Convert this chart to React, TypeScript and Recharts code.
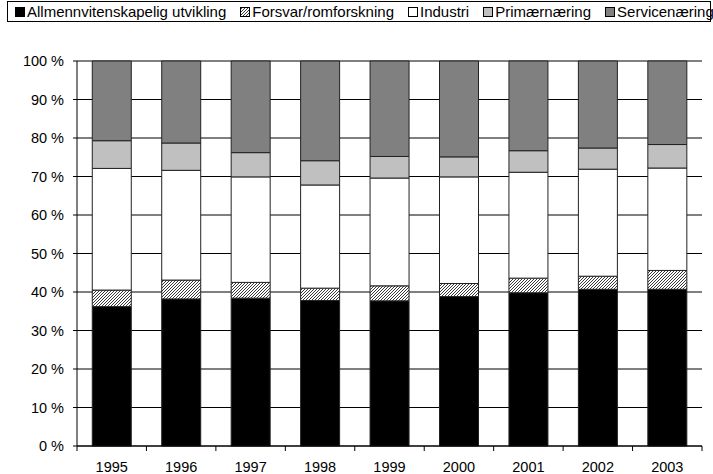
import React from "react";
import { BarChart, Bar, XAxis, YAxis, CartesianGrid } from "recharts";

const years = ["1995", "1996", "1997", "1998", "1999", "2000", "2001", "2002", "2003"];
const allmenn = [36.2, 38.2, 38.4, 37.8, 37.7, 38.8, 39.8, 40.7, 40.7];
const forsvar = [4.3, 4.9, 4.1, 3.2, 3.9, 3.4, 3.8, 3.4, 4.9];
const industri = [31.6, 28.5, 27.4, 26.8, 28.0, 27.7, 27.5, 27.8, 26.6];
const primaer = [7.2, 7.1, 6.3, 6.3, 5.6, 5.2, 5.6, 5.5, 6.1];
const service = [20.7, 21.3, 23.8, 25.9, 24.8, 24.9, 23.3, 22.6, 21.7];
const yTicks = [0, 10, 20, 30, 40, 50, 60, 70, 80, 90, 100];

const data = years.map((year, i) => ({
  year,
  allmenn: allmenn[i],
  forsvar: forsvar[i],
  industri: industri[i],
  primaer: primaer[i],
  service: service[i],
}));

const FONT = '"Liberation Sans", Arial, sans-serif';
const W = 713;
const H = 474;
const MARGIN = { top: 61, right: 11, left: 17, bottom: 8 };
const Y_AXIS_W = 60;
const PLOT_W = W - MARGIN.left - MARGIN.right - Y_AXIS_W;
const BAND = PLOT_W / years.length;

const series = [
  { key: "allmenn", name: "Allmennvitenskapelig utvikling", fill: "#000000" },
  { key: "forsvar", name: "Forsvar/romforskning", fill: "url(#hatch)" },
  { key: "industri", name: "Industri", fill: "#ffffff" },
  { key: "primaer", name: "Primærnæring", fill: "#c0c0c0" },
  { key: "service", name: "Servicenæring", fill: "#808080" },
];

const HatchDef = ({ id }: { id: string }) => (
  <pattern id={id} patternUnits="userSpaceOnUse" width="3" height="3">
    <rect width="3" height="3" fill="#ffffff" />
    <path d="M-1,1 L1,-1 M0,3 L3,0 M2,4 L4,2" stroke="#222" strokeWidth="0.9" />
  </pattern>
);

const XTick = (props: any) => {
  const { x, y, payload, index } = props;
  const axisY = y - 16;
  return (
    <g>
      <line x1={x - BAND / 2} x2={x - BAND / 2} y1={axisY} y2={axisY + 5} stroke="#000" />
      {index === years.length - 1 && (
        <line x1={x + BAND / 2} x2={x + BAND / 2} y1={axisY} y2={axisY + 5} stroke="#000" />
      )}
      <text x={x} y={y + 10} textAnchor="middle" fontSize={14.5} fontFamily={FONT} fill="#000">
        {payload.value}
      </text>
    </g>
  );
};

const Legend = () => (
  <div
    style={{
      position: "absolute",
      left: 7,
      top: 1,
      width: 704,
      height: 21,
      boxSizing: "border-box",
      border: "1px solid #000",
      display: "flex",
      alignItems: "center",
      paddingLeft: 7,
      gap: 14,
      fontFamily: FONT,
      fontSize: 15,
      lineHeight: "17px",
      color: "#000",
      whiteSpace: "nowrap",
    }}
  >
    {series.map((s) => (
      <div key={s.key} style={{ display: "flex", alignItems: "center" }}>
        <svg width={10} height={10} style={{ marginRight: 2 }}>
          <defs>
            <HatchDef id={"lh" + s.key} />
          </defs>
          <rect
            x={0.5}
            y={0.5}
            width={9}
            height={9}
            fill={s.key === "forsvar" ? "url(#lh" + s.key + ")" : s.fill}
            stroke="#000"
          />
        </svg>
        <span>{s.name}</span>
      </div>
    ))}
  </div>
);

export default function App() {
  return (
    <div style={{ position: "absolute", left: 0, top: 0, width: W, height: H, background: "#fff" }}>
      <Legend />
      <div style={{ position: "absolute", left: 0, top: 0 }}>
        <BarChart width={W} height={H} data={data} margin={MARGIN} barCategoryGap="22%">
          <defs>
            <HatchDef id="hatch" />
          </defs>
          <CartesianGrid vertical={false} stroke="#000" />
          <XAxis
            dataKey="year"
            height={20}
            tickSize={5}
            tickMargin={11}
            tickLine={false}
            axisLine={{ stroke: "#000" }}
            tick={<XTick />}
            interval={0}
          />
          <YAxis
            width={Y_AXIS_W}
            domain={[0, 100]}
            ticks={yTicks}
            tickFormatter={(v) => `${v} %`}
            tickSize={4}
            tickMargin={9}
            axisLine={{ stroke: "#000" }}
            tickLine={{ stroke: "#000" }}
            tick={{ fill: "#000", fontSize: 14.5, fontFamily: FONT }}
            interval={0}
          />
          <YAxis
            yAxisId="edge"
            orientation="right"
            width={0}
            tick={false}
            tickLine={false}
            axisLine={{ stroke: "#000" }}
          />
          {series.map((s) => (
            <Bar
              key={s.key}
              dataKey={s.key}
              name={s.name}
              stackId="a"
              fill={s.fill}
              stroke="#222"
              strokeWidth={1}
              isAnimationActive={false}
            />
          ))}
        </BarChart>
      </div>
    </div>
  );
}
